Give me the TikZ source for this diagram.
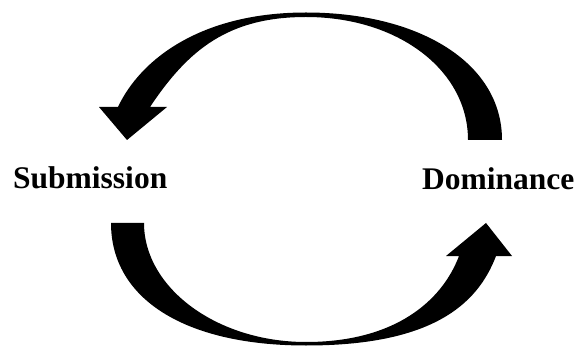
\documentclass[tikz,border=0pt]{standalone}
\usepackage{fontspec}
\setmainfont{Liberation Serif}
\usepackage{tikz}
\usetikzlibrary{positioning}

\begin{document}
\begin{tikzpicture}[x=1pt,y=-1pt,font=\fontsize{31.5}{36}\selectfont\bfseries]
  \tikzset{cyclearrow/.style={fill=black,draw=none}}
  \useasboundingbox (0,0) rectangle (583,347);

  \node[anchor=base west,inner sep=0pt] (submission) at (13,188.5) {Submission};
  \node[anchor=base west,inner sep=0pt] (dominance) at (422,189.5) {Dominance};

  % upper arrow: Dominance to Submission
  \fill[cyclearrow] (468,140) -- (502,140)
    .. controls (502,62) and (418,12.5) .. (306,12.5)
    .. controls (200,12.5) and (140,60) .. (118,107)
    -- (99,107) -- (127,140) -- (167,107) -- (150,107)
    .. controls (188,50) and (228,17) .. (306,17)
    .. controls (398,17) and (468,70) .. (468,140) -- cycle;

  % lower arrow: Submission to Dominance
  \fill[cyclearrow] (111,223) -- (144,223)
    .. controls (144,288) and (217,342) .. (306,342)
    .. controls (395,342) and (442,301) .. (459,256)
    -- (446,256) -- (486,223) -- (512,256) -- (496,256)
    .. controls (477,306) and (430,345.5) .. (306,345.5)
    .. controls (185,345.5) and (111,299) .. (111,223) -- cycle;
\end{tikzpicture}
\end{document}
